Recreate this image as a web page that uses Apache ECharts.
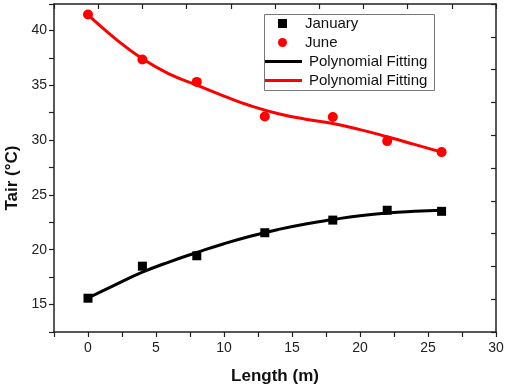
<!DOCTYPE html>
<html><head><meta charset="utf-8">
<script src="https://cdn.jsdelivr.net/npm/echarts@6/dist/echarts.min.js"></script>
<style>html,body{margin:0;padding:0;background:#fff}#c{width:505px;height:386px}</style>
</head><body><div id="c"></div>
<script>
// Measured points
const lengths = [0, 4, 8, 13, 18, 22, 26];
const januaryT = [15.58, 18.5, 19.45, 21.55, 22.7, 23.6, 23.5];
const juneT = [41.45, 37.34, 35.3, 32.15, 32.1, 29.9, 28.9];
// Fitted curves
const fitX = [0, 2, 4, 6, 8, 10, 12, 14, 16, 18, 20, 22, 24, 26];
const janFit = [15.6, 16.8, 17.95, 18.9, 19.75, 20.55, 21.25, 21.85, 22.35, 22.75, 23.1, 23.35, 23.5, 23.6];
const junFit = [41.4, 39.25, 37.4, 36.0, 35.0, 34.0, 33.1, 32.4, 31.9, 31.5, 30.95, 30.3, 29.6, 28.9];
const xTickLabels = [0, 5, 10, 15, 20, 25, 30];
const yTickLabels = [15, 20, 25, 30, 35, 40];

const zip = (a, b) => a.map((v, i) => [v, b[i]]);
const font = 'Liberation Sans, Arial, sans-serif';
const axisLine = {show: true, onZero: false, lineStyle: {color: '#222', width: 1.5}};
const chart = echarts.init(document.getElementById('c'), null, {renderer: 'canvas'});
chart.setOption({
  animation: false,
  backgroundColor: '#fff',
  grid: {left: 54, top: 4, width: 442, height: 328, containLabel: false, outerBoundsMode: 'none'},
  xAxis: [{
    type: 'value', min: -2.5, max: 30, interval: 2.5, position: 'bottom',
    name: 'Length (m)', nameLocation: 'middle', nameGap: 36,
    nameTextStyle: {fontFamily: font, fontWeight: 'bold', fontSize: 17, color: '#111'},
    axisLine: axisLine,
    axisTick: {show: true, inside: false, length: 5, lineStyle: {color: '#222', width: 1.2}},
    axisLabel: {fontFamily: font, fontSize: 14, color: '#222', margin: 9,
      formatter: v => xTickLabels.includes(v) ? String(v) : ''},
    splitLine: {show: false}
  }, {
    type: 'value', min: 0, max: 10, interval: 1, position: 'top',
    axisLine: axisLine,
    axisTick: {show: true, inside: true, length: 5, lineStyle: {color: '#222', width: 1.2}},
    axisLabel: {show: false}, splitLine: {show: false}
  }],
  yAxis: [{
    type: 'value', min: 12.5, max: 42.4, interval: 2.5, position: 'left',
    name: 'Tair (°C)', nameLocation: 'middle', nameGap: 32,
    nameTextStyle: {fontFamily: font, fontWeight: 'bold', fontSize: 17, color: '#111', padding: [0, 20, 0, 0]},
    axisLine: axisLine,
    axisTick: {show: true, inside: false, length: 5, lineStyle: {color: '#222', width: 1.2}},
    axisLabel: {fontFamily: font, fontSize: 14, color: '#222', margin: 7,
      formatter: v => yTickLabels.includes(v) ? String(v) : ''},
    splitLine: {show: false}
  }, {
    type: 'value', min: 0, max: 10, interval: 1, position: 'right',
    axisLine: axisLine,
    axisTick: {show: true, inside: true, length: 5, lineStyle: {color: '#222', width: 1.2}},
    axisLabel: {show: false}, splitLine: {show: false}
  }],
  legend: [{
    data: [{name: 'January', icon: 'rect'}, {name: 'June', icon: 'circle'}],
    orient: 'vertical', left: 278, top: 15, padding: 0, itemWidth: 9, itemHeight: 9, itemGap: 2,
    textStyle: {fontFamily: font, fontSize: 15, color: '#111', lineHeight: 17, padding: [0, 0, 0, 13]}
  }, {
    data: [{name: 'Polynomial Fitting', icon: 'rect'}, {name: 'Polynomial Fitting ', icon: 'rect'}],
    orient: 'vertical', left: 265, top: 53, padding: 0, itemWidth: 37, itemHeight: 3, itemGap: 2,
    textStyle: {fontFamily: font, fontSize: 15, color: '#111', lineHeight: 17, padding: [0, 0, 0, 2]}
  }],
  graphic: [{
    type: 'rect', left: 262, top: 12, shape: {width: 170, height: 76},
    style: {fill: 'none', stroke: '#777', lineWidth: 1}, z: 10
  }],
  series: [{
    name: 'Polynomial Fitting', type: 'line', data: zip(fitX, janFit), smooth: true,
    showSymbol: false, symbol: 'none', lineStyle: {color: '#000', width: 3}, itemStyle: {color: '#000'}, z: 2
  }, {
    name: 'Polynomial Fitting ', type: 'line', data: zip(fitX, junFit), smooth: true,
    showSymbol: false, symbol: 'none', lineStyle: {color: '#ff0000', width: 3}, itemStyle: {color: '#ff0000'}, z: 2
  }, {
    name: 'January', type: 'scatter', data: zip(lengths, januaryT), symbol: 'rect', symbolSize: 9,
    itemStyle: {color: '#000', opacity: 1}, z: 3
  }, {
    name: 'June', type: 'scatter', data: zip(lengths, juneT), symbol: 'circle', symbolSize: 10,
    itemStyle: {color: '#ff0000', opacity: 1}, z: 3
  }]
});
</script></body></html>
